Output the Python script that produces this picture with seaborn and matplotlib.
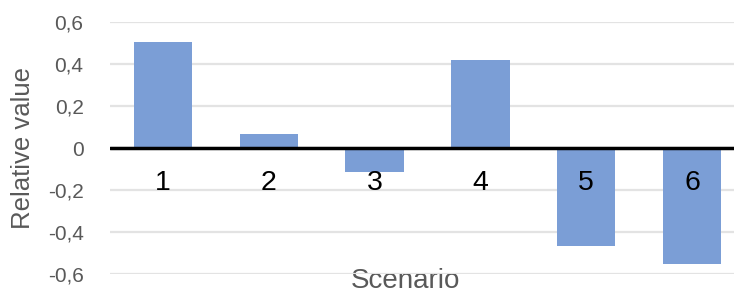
import matplotlib
matplotlib.use("Agg")
import matplotlib.pyplot as plt
import seaborn as sns
from matplotlib.ticker import FuncFormatter

# Datos
escenarios = ["1", "2", "3", "4", "5", "6"]
valores = [0.506, 0.067, -0.113, 0.42, -0.467, -0.554]
ticks_y = [-0.6, -0.4, -0.2, 0.0, 0.2, 0.4, 0.6]

color_barra = "#7b9ed6"
gris_texto = "#595959"

sns.set_style("white")
plt.rcParams["font.family"] = ["Liberation Sans", "DejaVu Sans"]

fig = plt.figure(figsize=(7.34, 2.95), dpi=100)
ax = fig.add_axes([110 / 734, 21 / 295, 635 / 734, 252 / 295])

sns.barplot(x=escenarios, y=valores, color=color_barra, saturation=1,
            width=0.55, linewidth=0, ax=ax, zorder=2)

# Rejilla y línea del cero
ax.set_ylim(-0.6, 0.6)
ax.set_xlim(-0.5, 5.5)
ax.set_yticks(ticks_y)
ax.yaxis.set_major_formatter(FuncFormatter(
    lambda v, p: "0" if abs(v) < 1e-9 else f"{v:.1f}".replace(".", ",")))
ax.grid(axis="y", color="#e3e3e3", linewidth=1.6)
ax.set_axisbelow(True)
ax.axhline(0, color="black", linewidth=2.5, zorder=3)

for s in ax.spines.values():
    s.set_visible(False)

ax.tick_params(axis="y", length=0, pad=19, labelsize=15, labelcolor=gris_texto)
ax.set_xticks([])

# Etiquetas de categoría bajo la línea del cero
for i, nombre in enumerate(escenarios):
    ax.annotate(nombre, xy=(i, 0), xytext=(0, -16), textcoords="offset points",
                ha="center", va="top", fontsize=20.5, color="black", zorder=4)

ax.set_ylabel("Relative value", fontsize=18.5, color=gris_texto, va="center")
ax.yaxis.set_label_coords(-0.137, 0.5)
ax.set_xlabel("Scenario", fontsize=20, color=gris_texto, va="center")
ax.xaxis.set_label_coords(0.466, -0.028)

fig.savefig("out.png", dpi=100)
